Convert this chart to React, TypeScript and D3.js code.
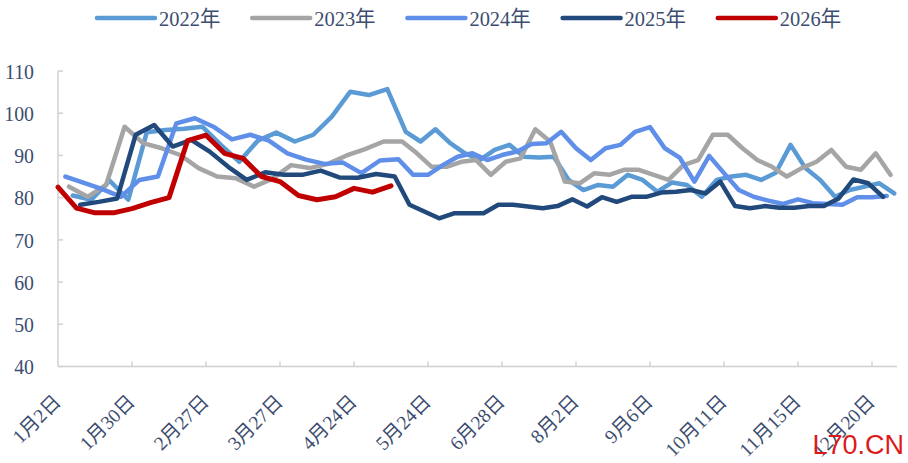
import React from "react";
import * as d3 from "d3";

// ---- data ----
const seriesNames = ["2022年", "2023年", "2024年", "2025年", "2026年"];
const seriesStarts = ["2022-01-07", "2023-01-06", "2024-01-05", "2025-01-03", "2026-01-02"];
const seriesColors = ["#5B9BD5", "#A5A5A5", "#5F8FE8", "#21497C", "#C00000"];

const v2022 = [80.5, 79.5, 84, 79.5, 95.5, 96, 96.3, 96.8, 92.5, 88.5, 93.5, 95.4, 93.3, 94.9, 99.2, 105.1, 104.3, 105.7,
  95.6, 93.3, 96.2, 92.9, 90.5, 88.9, 91.3, 92.5, 89.7, 89.5, 89.7, 84.2, 81.8, 83, 82.6, 85.4, 84.2, 81.4, 83.6, 83,
  80.2, 84.2, 85, 85.4, 84.2, 85.9, 92.5, 87, 84.2, 80.2, 81.8, 82.6, 83.4, 81];
const v2023 = [82.6, 80.2, 83, 96.8, 92.9, 91.7, 90.1, 87, 85, 84.6, 82.6, 84.5, 87.7, 87, 88, 90, 91.5, 93.3, 93.3,
  90.5, 87.3, 87.3, 88.5, 88.9, 85.4, 88.5, 89.3, 96.2, 93.3, 83.8, 83.4, 85.8, 85.4, 86.6, 86.6, 85.4, 84.2, 87.7,
  88.9, 94.9, 94.9, 91.7, 88.9, 87.3, 85, 87, 88.5, 91.3, 87.3, 86.6, 90.5, 85.4];
const v2024 = [85, 83.5, 82, 80.2, 84.2, 85, 97.6, 98.8, 96.8, 93.8, 94.9, 93.5, 90.5, 89, 88, 88.3, 85.8, 88.8, 89.1,
  85.4, 85.4, 87.7, 89.7, 90.5, 88.9, 90.1, 90.9, 92.7, 92.9, 95.6, 91.7, 88.9, 91.7, 92.5, 95.6, 96.7, 91.7, 89.5,
  83.8, 89.9, 85.8, 81.8, 80.2, 79.3, 78.5, 79.6, 78.7, 78.5, 78.3, 80.1, 80.1, 80.4];
const v2025 = [null, 78.3, 79, 79.8, 94.9, 97.2, 92.1, 93.7, 90.9, 87.3, 84.2, 86, 85.4, 85.4, 86.4, 84.8, 84.7, 85.6,
  85, 78.3, 76.7, 75.1, 76.3, 76.3, 76.3, 78.3, 78.3, 77.9, 77.5, 78, 79.6, 77.9, 80.1, 79, 80.2, 80.2, 81.2, 81.4,
  81.8, 81, 83.8, 78, 77.5, 78, 77.6, 77.6, 78, 78, 79.8, 84.3, 83.4, 80.2];
const v2026 = [82.5, 77.5, 76.4, 76.4, 77.4, 78.8, 80, 93.5, 94.8, 90.5, 89.3, 85, 83.8, 80.5, 79.5, 80.2, 82.2, 81.3, 82.8];

const seriesValues = [v2022, v2023, v2024, v2025, v2026];

const xTickLabels = ["1月2日", "1月30日", "2月27日", "3月27日", "4月24日", "5月24日", "6月28日", "8月2日", "9月6日", "10月11日", "11月15日", "12月20日"];
const xTickEvery = 20;
const yTicks = [40, 50, 60, 70, 80, 90, 100, 110];

// ---- layout ----
const W = 908, H = 463;
const left = 58, right = 894.2, top = 71, bottom = 366.5;
const textColor = "#3C4D70";
const axisColor = "#D0D0D0";
const serif = "'Liberation Serif', 'DejaVu Serif', 'Noto Sans CJK SC', serif";

const fmt = d3.utcFormat("%m-%d");
const parse = d3.utcParse("%Y-%m-%d");

const seriesPoints = seriesValues.map((vals, si) => {
  const start = parse(seriesStarts[si]) as Date;
  return vals.map((v, i) => ({ key: fmt(d3.utcDay.offset(start, 7 * i)), v }));
});
const keys = Array.from(new Set(seriesPoints.flat().map((p) => p.key))).sort();

export default function App() {
  const x = d3.scalePoint<string>().domain(keys).range([left, right]);
  const y = d3.scaleLinear().domain([40, 110]).range([bottom, top]);
  const line = d3
    .line<{ key: string; v: number | null }>()
    .defined((d) => d.v != null)
    .x((d) => x(d.key) as number)
    .y((d) => y(d.v as number))
    .curve(d3.curveLinear);

  const tickIdx = xTickLabels.map((_, i) => i * xTickEvery);
  const legendX0 = 97, legendStep = 155.2, legendLine = 58, legendY = 18;

  return (
    <svg width={W} height={H} style={{ position: "absolute", left: 0, top: 0, background: "#fff" }}>
      {/* legend */}
      {seriesNames.map((n, i) => {
        const lx = legendX0 + i * legendStep;
        return (
          <g key={n}>
            <line x1={lx} x2={lx + legendLine} y1={legendY} y2={legendY} stroke={seriesColors[i]} strokeWidth={4.5} strokeLinecap="round" />
            <text transform={`translate(${lx + legendLine + 4},${legendY}) scale(0.93,1)`} dy="0.36em" fontFamily={serif} fontSize={22} fill={textColor}>{n}</text>
          </g>
        );
      })}

      {/* axes */}
      <line x1={left} x2={left} y1={top} y2={bottom} stroke={axisColor} strokeWidth={1.5} />
      <line x1={left} x2={897} y1={bottom} y2={bottom} stroke={axisColor} strokeWidth={1.5} />
      {yTicks.map((t) => (
        <g key={t}>
          <line x1={left} x2={left + 5} y1={y(t)} y2={y(t)} stroke={axisColor} strokeWidth={1.5} />
          <text transform={`translate(34,${y(t)}) scale(0.9,1)`} dy="0.35em" textAnchor="end" fontFamily={serif} fontSize={22} fill={textColor}>{t}</text>
        </g>
      ))}
      {tickIdx.map((ci, i) => {
        const tx = x(keys[ci]) as number;
        return (
          <g key={i}>
            {i > 0 && <line x1={tx} x2={tx} y1={bottom} y2={bottom - 5} stroke={axisColor} strokeWidth={1.5} />}
            <text transform={`translate(${tx + 4},${403}) rotate(-45)`} textAnchor="end" fontFamily={serif} fontSize={19.5} fill={textColor}>
              {xTickLabels[i]}
            </text>
          </g>
        );
      })}

      {/* series */}
      {seriesPoints.map((pts, i) => (
        <path key={i} d={line(pts as any) || ""} fill="none" stroke={seriesColors[i]} strokeWidth={i === 4 ? 5 : 4.5} strokeLinejoin="round" strokeLinecap="round" />
      ))}

      {/* watermark */}
      <text x={904} y={454} textAnchor="end" fontFamily="'Liberation Sans', Arial, sans-serif" fontSize={27} fill="#DD1A1A">L70.CN</text>
    </svg>
  );
}
